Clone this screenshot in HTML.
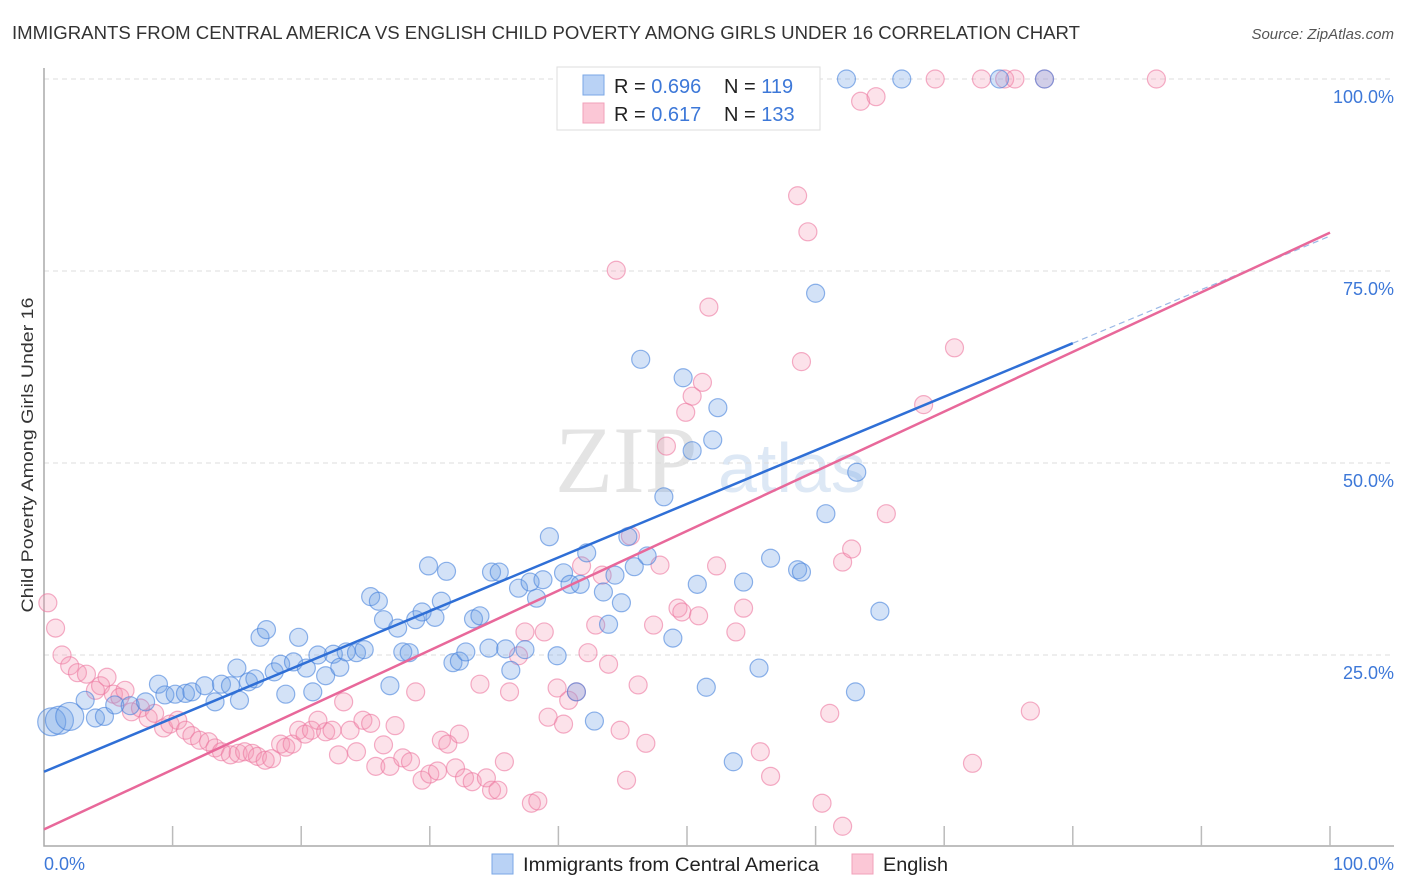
<!DOCTYPE html>
<html><head><meta charset="utf-8"><style>
body{margin:0;background:#fff;font-family:"Liberation Sans",sans-serif}
svg{display:block}
</style></head><body>
<svg id="chart" width="1406" height="892" xmlns="http://www.w3.org/2000/svg">
<text x="12" y="39" font-size="18" fill="#333" textLength="1068" lengthAdjust="spacingAndGlyphs">IMMIGRANTS FROM CENTRAL AMERICA VS ENGLISH CHILD POVERTY AMONG GIRLS UNDER 16 CORRELATION CHART</text>
<text x="1394" y="39" font-size="15" fill="#555" font-style="italic" text-anchor="end">Source: ZipAtlas.com</text>
<text x="555" y="492" font-size="95" fill="#e4e4e4" font-family="Liberation Serif">ZIP</text>
<text x="718" y="492" font-size="70" fill="#dde8f5">atlas</text>
<g id="grid"></g>
<g id="pts"></g>
<g id="lines"></g>
<text transform="translate(33,455) rotate(-90)" font-size="17" fill="#333" text-anchor="middle" textLength="315" lengthAdjust="spacingAndGlyphs">Child Poverty Among Girls Under 16</text>
<text x="44" y="870" font-size="18" fill="#3d78d8">0.0%</text>
<text x="1394" y="870" font-size="18" fill="#3d78d8" text-anchor="end">100.0%</text>
<g>
<rect x="557" y="67" width="263" height="63" fill="#fff" stroke="#ddd"/>
<rect x="583" y="75" width="21" height="20" fill="#b9d2f5" stroke="#7aa7e6"/>
<rect x="583" y="103" width="21" height="20" fill="#fbc7d6" stroke="#f2a0ba"/>
<text x="614" y="93" font-size="20" fill="#222">R = <tspan fill="#3d78d8">0.696</tspan></text>
<text x="724" y="93" font-size="20" fill="#222">N = <tspan fill="#3d78d8"> 119</tspan></text>
<text x="614" y="121" font-size="20" fill="#222">R = <tspan fill="#3d78d8"> 0.617</tspan></text>
<text x="724" y="121" font-size="20" fill="#222">N = <tspan fill="#3d78d8">133</tspan></text>
</g>
<g>
<rect x="492" y="854" width="21" height="20" fill="#b9d2f5" stroke="#7aa7e6"/>
<text x="523" y="871" font-size="19" fill="#222" textLength="296" lengthAdjust="spacingAndGlyphs">Immigrants from Central America</text>
<rect x="852" y="854" width="21" height="20" fill="#fbc7d6" stroke="#f2a0ba"/>
<text x="883" y="871" font-size="19" fill="#222" textLength="65" lengthAdjust="spacingAndGlyphs">English</text>
</g>
</svg>
<script>
const yTicks=[25,50,75,100];
const yTickLabels=["25.0%","50.0%","75.0%","100.0%"];
const blueX=[0.6,1.2,2,3.2,4,4.7,5.5,6.7,7.9,8.9,9.4,10.2,11,11.5,12.5,13.3,13.8,14.5,15,15.2,15.9,16.4,16.8,17.3,17.9,18.4,18.8,19.4,19.8,20.4,20.9,21.3,21.9,22.5,23,23.5,24.3,24.9,25.4,26,26.4,26.9,27.5,27.9,28.4,28.9,29.4,29.9,30.4,30.9,31.3,31.8,32.3,32.8,33.4,33.9,34.6,34.8,35.4,35.9,36.3,36.9,37.4,37.8,38.3,38.8,39.3,39.9,40.4,40.9,41.4,41.7,42.2,42.8,43.5,43.9,44.4,44.9,45.4,45.9,46.4,46.9,48.2,48.9,49.7,50.4,50.8,51.5,52,52.4,53.6,54.4,55.6,56.5,58.6,58.9,60,60.8,62.4,63.1,63.2,65,66.7,74.3,77.8,53.7];
const blueY=[16.3,16.5,17,19.1,16.8,17,18.5,18.4,18.9,21.2,19.8,19.9,20,20.2,21,18.9,21.2,21,23.3,19.1,21.5,21.9,27.3,28.3,22.8,23.8,19.9,24.1,27.3,23.3,20.2,25,22.3,25.1,23.4,25.4,25.3,25.7,32.6,32,29.6,21,28.5,25.4,25.3,29.6,30.6,36.6,29.9,32,35.9,24,24.2,25.4,29.7,30.1,25.9,35.8,35.8,25.8,23,33.7,25.7,34.5,32.4,34.8,40.4,24.9,35.7,34.2,20.2,34.2,38.3,16.4,33.2,29,35.4,31.8,40.4,36.5,63.5,37.9,45.6,27.2,61.1,51.6,34.2,20.8,53,57.2,11.1,34.5,23.3,37.6,36.1,35.8,72.1,43.4,100,20.2,48.8,30.7,100,100,100,100];
const pinkX=[0.3,0.9,1.4,2,2.6,3.3,4,4.4,4.9,5.4,5.9,6.3,6.8,7.5,8.1,8.6,9.3,9.8,10.4,11,11.5,12.1,12.8,13.3,13.8,14.5,15.1,15.6,16.2,16.6,17.2,17.7,18.4,18.8,19.3,19.8,20.3,20.8,21.3,21.9,22.4,22.9,23.3,23.8,24.3,24.8,25.4,25.8,26.4,26.9,27.3,27.9,28.5,28.9,29.4,30,30.6,30.9,31.4,32,32.3,32.7,33.3,33.9,34.4,34.8,35.3,35.8,36.2,36.9,37.4,37.9,38.4,38.9,39.2,39.9,40.4,40.8,41.4,41.8,42.3,42.9,43.4,43.9,44.5,44.8,45.3,45.6,46.2,46.8,47.4,47.9,48.4,49.3,49.6,49.9,50.4,50.9,51.2,51.7,52.3,52.9,53.8,54.4,54.9,55.7,56.5,58.6,58.9,59.4,60.5,61.1,62.1,62.1,62.8,63.5,64.7,65.5,68.4,69.3,70.8,72.2,72.9,74.7,75.5,76.7,77.8,86.5];
const pinkY=[31.8,28.5,25,23.6,22.7,22.5,20.4,21,22.1,19.9,19.5,20.4,17.6,18.1,16.8,17.4,15.5,16,16.5,15.2,14.5,13.9,13.7,12.9,12.4,12,12.2,12.4,12.2,11.8,11.3,11.5,13.4,13,13.4,15.2,14.7,15.2,16.5,15,15.2,12,18.9,15.2,12.4,16.5,16.1,10.5,13.3,10.5,15.8,11.6,11.1,20.2,8.7,9.5,9.9,13.9,13.4,10.3,14.7,9,8.5,21.2,9,7.4,7.4,11.1,20.2,24.9,28,5.7,6,28,16.9,20.7,16,19.1,20.2,36.6,25.3,28.9,35.4,23.8,75.1,15.2,8.7,40.5,21.1,13.5,28.9,36.7,52.2,31.1,30.6,56.6,58.7,30.1,60.5,70.3,36.6,100,28,31.1,100,12.4,9.2,84.8,63.2,80.1,5.7,17.4,37.1,2.7,38.8,97.1,97.7,43.4,57.6,100,65,10.9,100,100,100,17.7,100,100];
const blueFit=[9.8,65.6]; // y at x=0 and x=80
const pinkFit=[2.3,80];   // y at x=0 and x=100
const X=v=>44+v*12.86, Y=v=>847-v*7.68;
const NS="http://www.w3.org/2000/svg";
function mk(tag,attrs,parent){const e=document.createElementNS(NS,tag);for(const k in attrs)e.setAttribute(k,attrs[k]);parent.appendChild(e);return e;}
const grid=document.getElementById('grid');
yTicks.forEach((t,i)=>{
  const l=mk('line',{x1:44,x2:1394,y1:Y(t),y2:Y(t),stroke:'#ddd','stroke-dasharray':'5,4'},grid);
  
  
  const tx=mk('text',{x:1394,y:Y(t)+24,'font-size':18,fill:'#3d78d8','text-anchor':'end'},grid);
  tx.textContent=yTickLabels[i];
  
  
});
const ax=mk('path',{d:'M44,68 V846 H1394',fill:'none',stroke:'#aaa','stroke-width':1.5},grid);


for(let i=1;i<=10;i++){
  const tk=mk('line',{x1:X(i*10),x2:X(i*10),y1:826,y2:846,stroke:'#bbb','stroke-width':1.5},grid);
  
  
}
const pts=document.getElementById('pts');
pinkX.forEach((x,i)=>{
  const c=mk('circle',{cx:X(x),cy:Y(pinkY[i]),r:9,fill:'rgba(244,150,180,0.28)',stroke:'rgba(236,120,160,0.6)','stroke-width':1.2},pts);
  
  
});
blueX.forEach((x,i)=>{
  const c=mk('circle',{cx:X(x),cy:Y(blueY[i]),r:i<3?14:9,fill:'rgba(110,160,230,0.3)',stroke:'rgba(70,130,220,0.6)','stroke-width':1.2},pts);
  
  
});
const lines=document.getElementById('lines');
const bSlope=(blueFit[1]-blueFit[0])/80;
const bl=mk('line',{x1:X(0),y1:Y(blueFit[0]),x2:X(80),y2:Y(blueFit[1]),stroke:'#2f6fd6','stroke-width':2.5},lines);


const bd=mk('line',{x1:X(80),y1:Y(blueFit[1]),x2:X(100),y2:Y(blueFit[0]+bSlope*100),stroke:'#9ab8e6','stroke-width':1.2,'stroke-dasharray':'6,4'},lines);


const pl=mk('line',{x1:X(0),y1:Y(pinkFit[0]),x2:X(100),y2:Y(pinkFit[1]),stroke:'#e8689a','stroke-width':2.5},lines);


</script>
</body></html>
